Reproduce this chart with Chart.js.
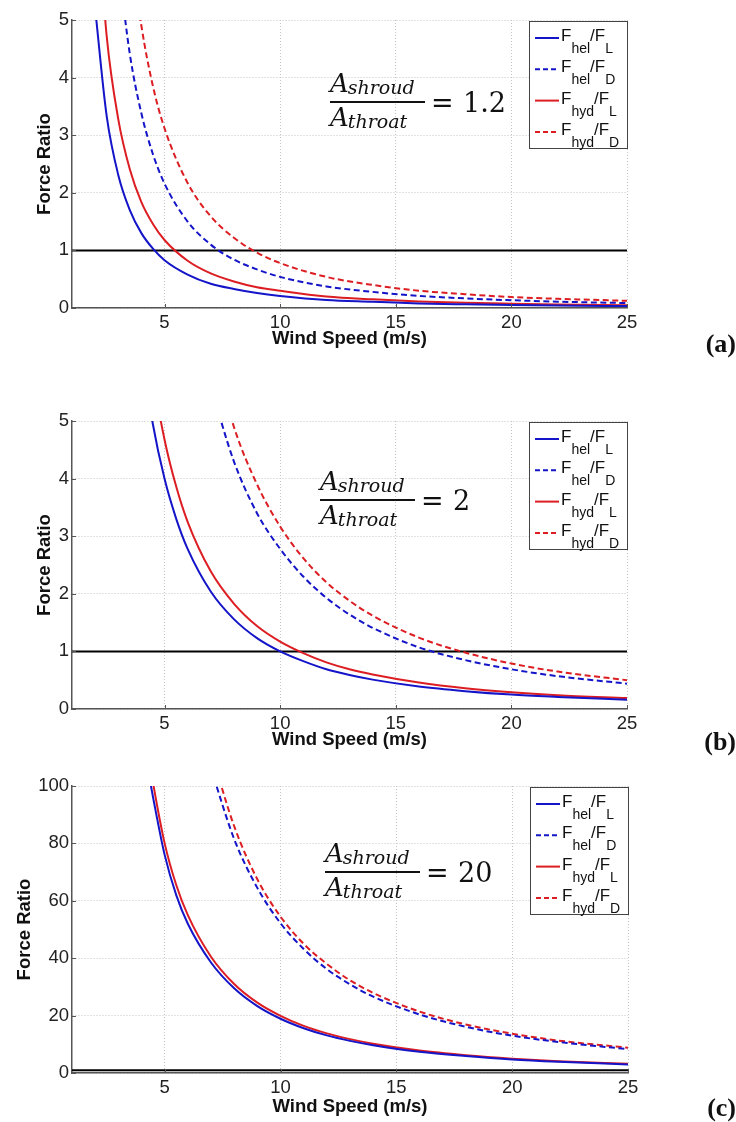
<!DOCTYPE html>
<html>
<head>
<meta charset="utf-8">
<script src="https://cdn.jsdelivr.net/npm/chart.js@4.4.1/dist/chart.umd.min.js"></script>
<style>
  body { margin: 0; background: #fff; width: 736px; height: 1122px; position: relative; overflow: hidden; }
  .panel { position: absolute; left: 0; width: 736px; }
</style>
</head>
<body>
<div class="panel" style="top:0;height:380px"><canvas id="chartA"></canvas></div>
<div class="panel" style="top:400px;height:360px"><canvas id="chartB"></canvas></div>
<div class="panel" style="top:760px;height:362px"><canvas id="chartC"></canvas></div>
<script>
// shared axis values
const xTicks = [5, 10, 15, 20, 25];
const xRange = [1, 25];
const unityRatio = [1, 1];
const legendLabels = [['hel', 'L'], ['hel', 'D'], ['hyd', 'L'], ['hyd', 'D']];
const areaRatios = ['1.2', '2', '20'];
const panelLabels = ['(a)', '(b)', '(c)'];

// (a) A_shroud / A_throat = 1.2
const speedA = [2, 2.5, 3, 3.5, 4, 4.5, 5, 6, 7, 8, 9, 10, 12, 14, 16, 18, 20, 22, 25];
const helLiftA = [5.2, 3.33, 2.31, 1.70, 1.30, 1.03, 0.83, 0.58, 0.42, 0.33, 0.26, 0.21, 0.14, 0.11, 0.08, 0.064, 0.052, 0.043, 0.033];
const helDragA = [null, null, 6.0, 4.41, 3.38, 2.67, 2.16, 1.50, 1.10, 0.84, 0.67, 0.54, 0.375, 0.28, 0.21, 0.167, 0.135, 0.11, 0.086];
const hydLiftA = [7.4, 4.72, 3.28, 2.41, 1.84, 1.46, 1.18, 0.82, 0.60, 0.46, 0.36, 0.30, 0.20, 0.15, 0.115, 0.09, 0.074, 0.061, 0.047];
const hydDragA = [null, null, null, 6.4, 4.9, 3.85, 3.12, 2.17, 1.59, 1.22, 0.96, 0.78, 0.54, 0.40, 0.30, 0.24, 0.19, 0.16, 0.125];

// (b) A_shroud / A_throat = 2
const speedB = [4, 4.5, 5, 5.5, 6, 7, 8, 9, 10, 11, 12, 13, 14, 16, 18, 20, 22, 25];
const helLiftB = [6.25, 4.94, 4.0, 3.31, 2.78, 2.04, 1.56, 1.23, 1.0, 0.83, 0.69, 0.59, 0.51, 0.39, 0.31, 0.25, 0.21, 0.16];
const helDragB = [null, null, null, null, null, 5.6, 4.3, 3.4, 2.78, 2.3, 1.93, 1.64, 1.41, 1.07, 0.85, 0.69, 0.57, 0.44];
const hydLiftB = [7.3, 5.78, 4.68, 3.87, 3.25, 2.39, 1.83, 1.44, 1.17, 0.97, 0.81, 0.69, 0.60, 0.46, 0.36, 0.29, 0.24, 0.19];
const hydDragB = [null, null, null, null, null, 6.4, 4.9, 3.9, 3.17, 2.62, 2.2, 1.88, 1.62, 1.24, 0.98, 0.79, 0.65, 0.50];

// (c) A_shroud / A_throat = 20
const speedC = [4, 4.5, 5, 5.5, 6, 7, 8, 9, 10, 11, 12, 13, 14, 16, 18, 20, 22, 25];
const helLiftC = [118, 96, 76, 62, 52, 38.5, 29.5, 23.3, 18.9, 15.6, 13.1, 11.2, 9.7, 7.4, 5.9, 4.7, 3.9, 3.0];
const helDragC = [null, null, null, null, null, 106, 81.5, 64.5, 52.2, 43.2, 36.2, 30.9, 26.6, 20.4, 16.1, 13.0, 10.8, 8.3];
const hydLiftC = [126, 101, 80, 65.5, 55, 40.5, 31, 24.5, 19.9, 16.4, 13.8, 11.8, 10.2, 7.8, 6.2, 5.0, 4.1, 3.2];
const hydDragC = [null, null, null, null, null, 112, 86, 67.5, 54.5, 45, 38, 32.3, 27.9, 21.4, 16.9, 13.7, 11.3, 8.8];

const BLUE = '#1414c8';
const RED = '#dc1e23';
const AXIS = '#555';
const SANS = 'Liberation Sans';

// legend box in the top right corner (subscripts need hand drawing)
const legendBox = {
  id: 'legendBox',
  afterDraw(chart) {
    const { ctx, chartArea: a } = chart;
    const w = 99, h = 128;
    const x0 = a.right - w + 1, y0 = a.top + 1;
    ctx.save();
    ctx.fillStyle = '#fff';
    ctx.fillRect(x0, y0, w, h);
    ctx.strokeStyle = '#444';
    ctx.lineWidth = 1;
    ctx.strokeRect(x0 + 0.5, y0 + 0.5, w - 1, h - 1);
    legendLabels.forEach((parts, i) => {
      const ds = chart.data.datasets[i];
      const y = y0 + 17 + i * 31.3;
      ctx.beginPath();
      ctx.setLineDash(ds.borderDash.length ? [5, 3] : []);
      ctx.strokeStyle = ds.borderColor;
      ctx.lineWidth = 2;
      ctx.moveTo(x0 + 6, y);
      ctx.lineTo(x0 + 30, y);
      ctx.stroke();
      ctx.setLineDash([]);
      ctx.fillStyle = '#111';
      ctx.textAlign = 'left';
      ctx.textBaseline = 'alphabetic';
      const big = '17px "Liberation Sans"', small = '14px "Liberation Sans"';
      const pieces = [['F', big, 0], [parts[0], small, 12], ['/F', big, 0], [parts[1], small, 12]];
      let x = x0 + 32;
      pieces.forEach(([t, f, dy]) => {
        ctx.font = f;
        ctx.fillText(t, x, y + 3 + dy);
        x += ctx.measureText(t).width;
      });
    });
    ctx.restore();
  }
};

// area ratio fraction note
const ratioNote = {
  id: 'ratioNote',
  afterDatasetsDraw(chart, args, opts) {
    const { ctx, chartArea: a } = chart;
    const x = a.left + opts.dx, bar = a.top + opts.dy;
    ctx.save();
    ctx.fillStyle = '#111';
    ctx.textAlign = 'left';
    ctx.textBaseline = 'alphabetic';
    const big = 'italic 26px "DejaVu Serif"', sub = 'italic 19px "DejaVu Serif"';
    ctx.font = big;
    ctx.fillText('A', x, bar - 10);
    let wa = ctx.measureText('A').width;
    ctx.font = sub;
    ctx.fillText('shroud', x + wa - 1, bar - 8);
    ctx.font = big;
    ctx.fillText('A', x, bar + 24);
    ctx.font = sub;
    ctx.fillText('throat', x + wa - 1, bar + 26);
    ctx.fillRect(x, bar - 1, 95, 2);
    ctx.font = '27px "DejaVu Serif"';
    ctx.fillText('=', x + 101, bar + 10);
    ctx.fillText(opts.text, x + 133, bar + 10);
    ctx.restore();
  }
};

// short inward tick marks, MATLAB style
const innerTicks = {
  id: 'innerTicks',
  afterDatasetsDraw(chart) {
    const { ctx, chartArea: a, scales } = chart;
    ctx.save();
    ctx.strokeStyle = AXIS;
    ctx.lineWidth = 1;
    ctx.beginPath();
    scales.x.ticks.forEach(t => {
      const px = Math.round(scales.x.getPixelForValue(t.value)) + 0.5;
      ctx.moveTo(px, a.bottom);
      ctx.lineTo(px, a.bottom - 4);
    });
    scales.y.ticks.forEach(t => {
      const py = Math.round(scales.y.getPixelForValue(t.value)) + 0.5;
      ctx.moveTo(a.left, py);
      ctx.lineTo(a.left + 4, py);
    });
    ctx.stroke();
    ctx.restore();
  }
};

// (a) (b) (c) tags at the right side
const panelTag = {
  id: 'panelTag',
  afterDraw(chart, args, opts) {
    const { ctx } = chart;
    ctx.save();
    ctx.fillStyle = '#111';
    ctx.font = 'bold 26px "Liberation Serif"';
    ctx.textAlign = 'right';
    ctx.textBaseline = 'middle';
    ctx.fillText(opts.text, 736, opts.y);
    ctx.restore();
  }
};

function lineSet(speeds, values, color, dashed) {
  return {
    data: speeds.map((s, i) => ({ x: s, y: values[i] })),
    borderColor: color,
    borderWidth: 2,
    borderDash: dashed ? [6, 3.5] : [],
    pointRadius: 0,
    cubicInterpolationMode: 'monotone',
    fill: false
  };
}

function makeChart(id, speeds, series, idx, cfg) {
  const ctx = document.getElementById(id).getContext('2d');
  return new Chart(ctx, {
    type: 'line',
    data: {
      datasets: [
        lineSet(speeds, series[0], BLUE, false),
        lineSet(speeds, series[1], BLUE, true),
        lineSet(speeds, series[2], RED, false),
        lineSet(speeds, series[3], RED, true),
        {
          data: xRange.map((s, i) => ({ x: s, y: unityRatio[i] })),
          borderColor: '#000',
          borderWidth: 2,
          borderDash: [],
          pointRadius: 0
        }
      ]
    },
    options: {
      responsive: true,
      maintainAspectRatio: false,
      animation: false,
      layout: { padding: { top: cfg.top, right: cfg.right, left: 0, bottom: cfg.bottom } },
      scales: {
        x: {
          type: 'linear',
          min: xRange[0],
          max: xRange[1],
          afterBuildTicks: axis => { axis.ticks = xTicks.map(v => ({ value: v })); },
          afterFit: axis => { axis.height = cfg.xHeight; },
          ticks: { font: { family: SANS, size: 18.5 }, color: '#222', padding: 4, maxRotation: 0 },
          grid: { color: '#c4c4c4', lineWidth: 1, drawTicks: false },
          border: { display: true, color: AXIS, width: 1.5, dash: [1, 2] },
          title: {
            display: true,
            text: 'Wind Speed (m/s)',
            color: '#111',
            font: { family: SANS, size: 18.5, weight: 'bold' },
            padding: { top: 0, bottom: cfg.titlePad }
          }
        },
        y: {
          min: 0,
          max: cfg.yMax,
          afterFit: axis => { axis.width = 72; },
          ticks: { stepSize: cfg.yStep, font: { family: SANS, size: 18.5 }, color: '#222', padding: 3 },
          grid: { color: '#c4c4c4', lineWidth: 1, drawTicks: false },
          border: { display: true, color: AXIS, width: 1.5, dash: [1, 2] },
          title: {
            display: true,
            text: 'Force Ratio',
            color: '#111',
            font: { family: SANS, size: 18.5, weight: 'bold' },
            padding: { top: cfg.yTitlePad, bottom: 0 }
          }
        }
      },
      plugins: {
        legend: { display: false },
        tooltip: { enabled: false },
        ratioNote: { text: areaRatios[idx], dx: cfg.noteX, dy: cfg.noteY },
        panelTag: { text: panelLabels[idx], y: cfg.tagY }
      }
    },
    plugins: [innerTicks, ratioNote, legendBox, panelTag]
  });
}

makeChart('chartA', speedA, [helLiftA, helDragA, hydLiftA, hydDragA], 0,
  { top: 20, bottom: 30, right: 109, xHeight: 42, titlePad: 0, yMax: 5, yStep: 1, yTitlePad: 34, noteX: 258, noteY: 82, tagY: 345 });
makeChart('chartB', speedB, [helLiftB, helDragB, hydLiftB, hydDragB], 1,
  { top: 21, bottom: 9, right: 109, xHeight: 42, titlePad: 0, yMax: 5, yStep: 1, yTitlePad: 34, noteX: 248, noteY: 79, tagY: 343 });
makeChart('chartC', speedC, [helLiftC, helDragC, hydLiftC, hydDragC], 2,
  { top: 26, bottom: 0, right: 108, xHeight: 49, titlePad: 4, yMax: 100, yStep: 20, yTitlePad: 14, noteX: 253, noteY: 86, tagY: 349 });
</script>
</body>
</html>
